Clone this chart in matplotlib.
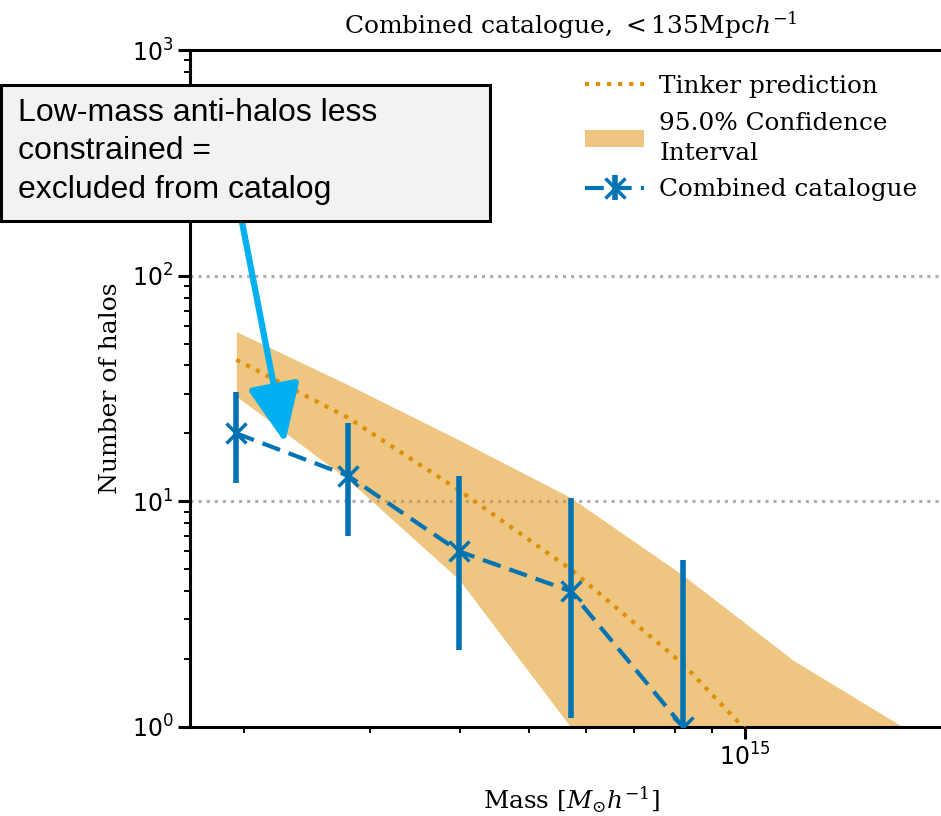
import matplotlib
matplotlib.use("Agg")
import matplotlib.pyplot as plt
from matplotlib.patches import Rectangle, FancyArrowPatch
from matplotlib.ticker import LogLocator, NullFormatter

plt.rcParams["mathtext.fontset"] = "dejavuserif"

# Halo-mass bin centres [M_sun / h]
mass_bins = [1.95e14, 2.79e14, 3.99e14, 5.71e14, 8.2e14, 1.17e15, 1.68e15]

# Tinker mass-function prediction and its 95% interval
tinker_mean = [42.4, 23.5, 11.2, 5.0, 1.9, 0.58, 0.17]
tinker_upper = [56.5, 32.9, 18.7, 10.4, 4.7, 1.97, 0.98]
tinker_lower = [29.2, 12.5, 4.5, 1.0, 0.3, 0.1, 0.05]

# Combined catalogue counts with uncertainty range
cat_mass = [1.95e14, 2.79e14, 3.99e14, 5.71e14, 8.2e14]
cat_counts = [20, 13, 6, 4, 1]
cat_high = [30.6, 22.3, 13.0, 10.3, 5.5]
cat_low = [12.1, 7.0, 2.2, 1.1, 0.5]

orange = "#DE8F05"
blue = "#0173B2"

W, H = 941, 816
fig = plt.figure(figsize=(W / 100, H / 100), dpi=100)
ax = fig.add_axes([190 / W, 89 / H, (952 - 190) / W, (727 - 50) / H])

ax.set_xscale("log")
ax.set_yscale("log")

ax.plot(mass_bins, tinker_mean, linestyle=":", color=orange, lw=3,
        label="Tinker prediction", zorder=3)
ax.fill_between(mass_bins, tinker_lower, tinker_upper, color=orange,
                alpha=0.5, lw=0, label="95.0% Confidence\nInterval", zorder=2)

yerr = [[c - lo for c, lo in zip(cat_counts, cat_low)],
        [hi - c for c, hi in zip(cat_counts, cat_high)]]
ax.errorbar(cat_mass, cat_counts, yerr=yerr, color=blue, linestyle="--",
            lw=3, dashes=(4.5, 2.2), marker="x", markersize=15, mew=2.5,
            elinewidth=4, capsize=0, label="Combined catalogue", zorder=4)

ax.set_xlim(1.68e14, 1.946e15)
ax.set_ylim(1, 1000)

for yv in (10, 100):
    ax.axhline(yv, color="#b0b0b0", ls=":", lw=2.2, zorder=1)

ax.yaxis.set_major_locator(LogLocator(base=10, numticks=10))
ax.yaxis.set_minor_locator(LogLocator(base=10, subs=range(2, 10), numticks=10))
ax.xaxis.set_minor_formatter(NullFormatter())
ax.yaxis.set_minor_formatter(NullFormatter())

for side in ("left", "bottom", "top", "right"):
    ax.spines[side].set_linewidth(2.2)
ax.tick_params(which="major", length=8.5, width=2.2, labelsize=17,
               direction="out")
ax.tick_params(which="minor", length=4.5, width=1.4, direction="out")
ax.tick_params(axis="x", which="both", top=False)

serif = "DejaVu Serif"
ax.set_title(r"Combined catalogue, $<135\mathrm{Mpc}h^{-1}$",
             family=serif, fontsize=18, pad=12)
ax.set_xlabel(r"Mass [$M_{\odot}h^{-1}$]", family=serif, fontsize=17.8,
              labelpad=10)
ax.set_ylabel("Number of halos", family=serif, fontsize=18, labelpad=7)

leg = ax.legend(loc="upper left", bbox_to_anchor=(585 / W, 1 - 75 / H),
                bbox_transform=fig.transFigure, frameon=False,
                prop={"family": serif, "size": 17.8}, handlelength=2.4,
                borderpad=0, borderaxespad=0, labelspacing=0.55,
                handletextpad=0.6)
leg.get_texts()[1].set_linespacing(1.4)

# Callout box with arrow
box = Rectangle((1 / W, 1 - 221 / H), 489 / W, 136 / H,
                transform=fig.transFigure, facecolor="#f2f2f2",
                edgecolor="black", lw=2.2, zorder=10)
fig.add_artist(box)
fig.text(18 / W, 1 - 98 / H,
         "Low-mass anti-halos less\nconstrained =\nexcluded from catalog",
         family="Liberation Sans", fontsize=23, va="top", ha="left",
         linespacing=1.36, zorder=11)
arrow = FancyArrowPatch((242 / W, 1 - 222 / H), (285 / W, 1 - 443 / H),
                        transform=fig.transFigure,
                        arrowstyle="-|>,head_length=1.8,head_width=0.8",
                        mutation_scale=20, shrinkA=0, shrinkB=0,
                        color="#00B0F0", lw=4.5, zorder=9)
fig.add_artist(arrow)

fig.savefig("out.png", dpi=100)
